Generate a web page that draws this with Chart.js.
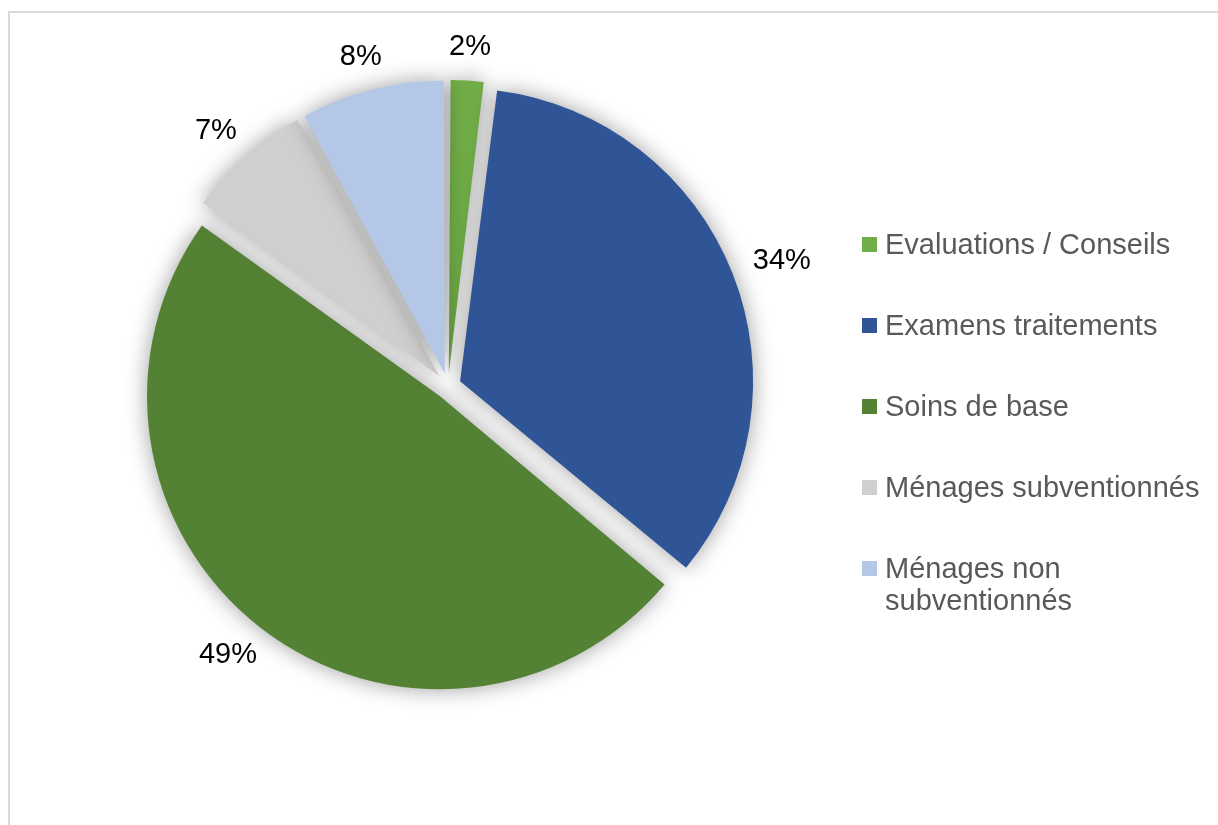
<!DOCTYPE html>
<html lang="fr">
<head>
<meta charset="utf-8">
<title>Répartition</title>
<script src="https://cdn.jsdelivr.net/npm/chart.js@4.4.1/dist/chart.umd.min.js"></script>
<style>
  html, body { margin: 0; padding: 0; background: #fff; overflow: hidden; }
  #frame { position: absolute; left: 8px; top: 11px; width: 1400px; height: 1000px;
           border-left: 2px solid #d9d9d9; border-top: 2px solid #d9d9d9; }
  #wrap { position: absolute; left: 0; top: 0; width: 1218px; height: 825px; }
  #legend { position: absolute; left: 862px; top: 228px;
            font-family: 'Liberation Sans', Arial, sans-serif; font-size: 29px;
            line-height: 32px; color: #595959; }
  .item { display: flex; align-items: flex-start; margin-bottom: 49px; }
  .box { width: 15px; height: 15px; margin-top: 9px; margin-right: 8px; flex: none; }
  .txt { max-width: 325px; }
</style>
</head>
<body>
<div id="frame"></div>
<div id="wrap"><canvas id="pieChart"></canvas></div>
<div id="legend"></div>
<script>
const categories = ['Evaluations / Conseils', 'Examens traitements', 'Soins de base', 'Ménages subventionnés', 'Ménages non subventionnés'];
const shares = [2, 34, 49, 7, 8];
const colors = ['#70ad47', '#2f5597', '#548235', '#d0cece', '#b4c7e7'];

const EXPLODE = 13; // px each slice is pulled out

// arc.offset in v4 translates by offset/4 and also grows the radius, undo that growth
const explodeFix = {
  id: 'explodeFix',
  beforeDatasetsDraw(chart) {
    const meta = chart.getDatasetMeta(0);
    const base = meta.controller.outerRadius;
    meta.data.forEach(arc => {
      const fix = 1 - Math.sin(Math.min(Math.PI, arc.circumference));
      arc.outerRadius = base - EXPLODE * fix;
    });
  }
};

const softShadow = {
  id: 'softShadow',
  beforeDatasetsDraw(chart) {
    const ctx = chart.ctx;
    ctx.save();
    ctx.shadowColor = 'rgba(0,0,0,0.38)';
    ctx.shadowBlur = 22;
    ctx.shadowOffsetX = 0;
    ctx.shadowOffsetY = 0;
  },
  afterDatasetsDraw(chart) {
    chart.ctx.restore();
  }
};

// percentage labels outside the slices
const outerLabels = {
  id: 'outerLabels',
  afterDraw(chart) {
    const ctx = chart.ctx;
    const meta = chart.getDatasetMeta(0);
    const total = shares.reduce((a, b) => a + b, 0);
    const r0 = meta.controller.outerRadius + EXPLODE + 24;
    ctx.save();
    ctx.font = '29px "Liberation Sans", Arial, sans-serif';
    ctx.fillStyle = '#000';
    ctx.textAlign = 'center';
    ctx.textBaseline = 'middle';
    meta.data.forEach((arc, i) => {
      const mid = (arc.startAngle + arc.endAngle) / 2;
      const dx = Math.cos(mid), dy = Math.sin(mid);
      const txt = Math.round(shares[i] / total * 100) + '%';
      const w = ctx.measureText(txt).width;
      const h = 20;
      const x = arc.x + dx * r0 + dx * w / 2;
      const y = arc.y + dy * r0 + dy * h / 2;
      ctx.fillText(txt, x, y);
    });
    ctx.restore();
  }
};

new Chart(document.getElementById('pieChart'), {
  type: 'pie',
  data: {
    labels: categories,
    datasets: [{
      data: shares,
      backgroundColor: colors,
      borderWidth: 0,
      offset: EXPLODE * 4,
      hoverOffset: 0,
      radius: 293,
      clip: false
    }]
  },
  options: {
    responsive: true,
    maintainAspectRatio: false,
    animation: false,
    events: [],
    layout: { padding: { left: 0, right: 322, top: 0, bottom: 53 } },
    plugins: {
      legend: { display: false },
      tooltip: { enabled: false }
    }
  },
  plugins: [explodeFix, softShadow, outerLabels]
});

// legend on the right
const legendEl = document.getElementById('legend');
categories.forEach((name, i) => {
  const item = document.createElement('div');
  item.className = 'item';
  const box = document.createElement('span');
  box.className = 'box';
  box.style.background = colors[i];
  const txt = document.createElement('span');
  txt.className = 'txt';
  txt.textContent = name;
  item.appendChild(box);
  item.appendChild(txt);
  legendEl.appendChild(item);
});
</script>
</body>
</html>
